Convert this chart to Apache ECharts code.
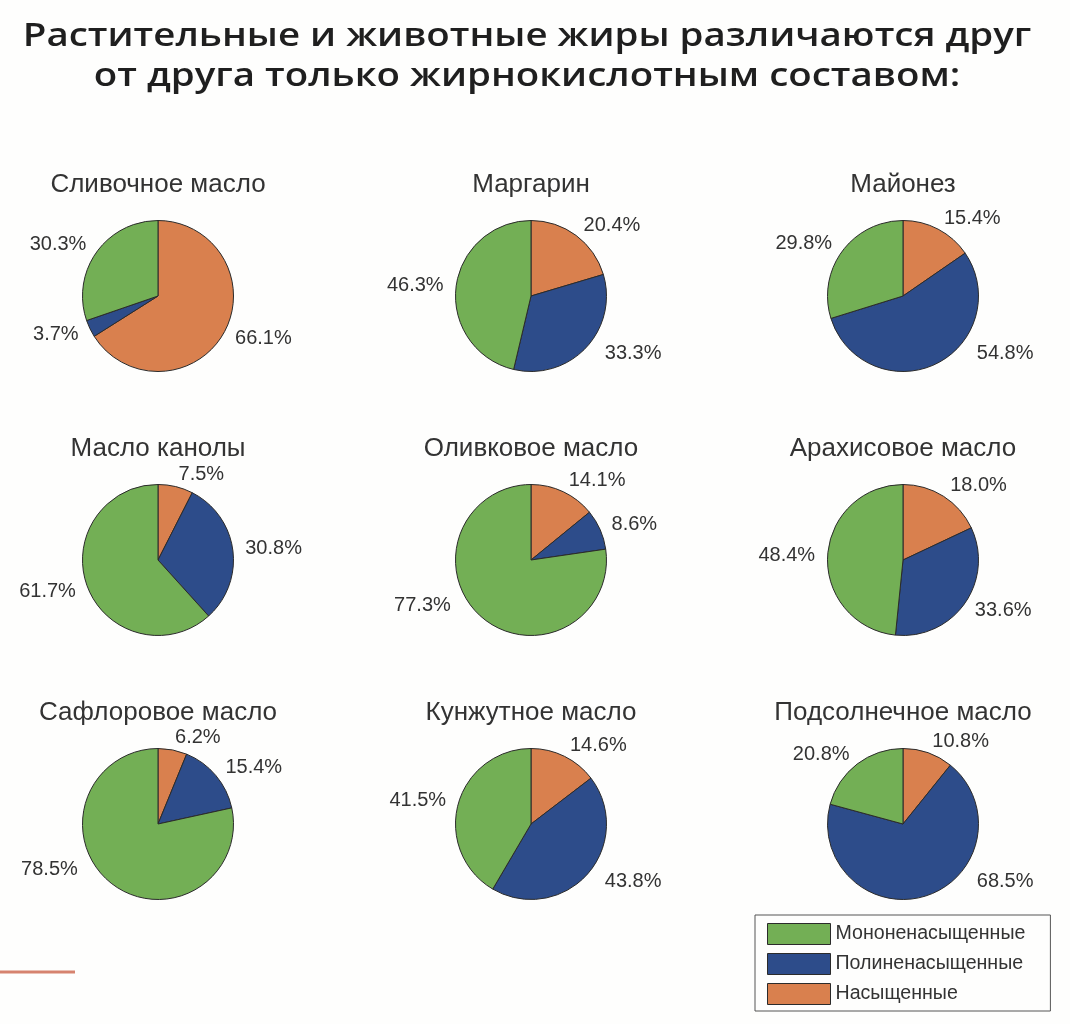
<!DOCTYPE html>
<html>
<head>
<meta charset="utf-8">
<script src="https://cdn.jsdelivr.net/npm/echarts@6/dist/echarts.min.js"></script>
<style>
html,body{margin:0;padding:0;background:#fefefd;}
#c{width:1070px;height:1024px;}
</style>
</head>
<body>
<div id="c"></div>
<script>
// ---- data ----
const mainTitleLines = ['Растительные и животные жиры различаются друг', 'от друга только жирнокислотным составом:'];
const fats = ['Сливочное масло', 'Маргарин', 'Майонез', 'Масло канолы', 'Оливковое масло', 'Арахисовое масло', 'Сафлоровое масло', 'Кунжутное масло', 'Подсолнечное масло'];
const saturated       = [66.1, 20.4, 15.4, 7.5, 14.1, 18.0, 6.2, 14.6, 10.8];
const polyunsaturated = [3.7, 33.3, 54.8, 30.8, 8.6, 33.6, 15.4, 43.8, 68.5];
const monounsaturated = [30.3, 46.3, 29.8, 61.7, 77.3, 48.4, 78.5, 41.5, 20.8];
const nameMono = 'Мононенасыщенные';
const namePoly = 'Полиненасыщенные';
const nameSat  = 'Насыщенные';

// ---- layout / style ----
const colMono = '#73af55', colPoly = '#2d4c8a', colSat = '#d9804e';
const colX = [158, 531, 903];
const rowY = [296, 560, 824];
const R = 75.5;
const textFont = '"Liberation Sans", Arial, sans-serif';

function makeLabelLayout(cx, cy) {
  return function (p) {
    const lr = p.labelRect;
    const w = lr.width, h = lr.height;
    let dx = lr.x + w / 2 - cx;
    let dy = lr.y + h / 2 - cy;
    const side = dx >= 0 ? 1 : -1;
    const maxDown = side > 0 ? 57 : 45;
    let clamped = false;
    if (dy > maxDown) { dy = maxDown; clamped = true; }
    if (dy < -92) { dy = -92; clamped = true; }
    if (clamped) {
      const ny = Math.max(0, Math.abs(dy) - h / 2);
      const rr = R + 12;
      const need = Math.sqrt(Math.max(0, rr * rr - ny * ny));
      const inner = Math.abs(dx) - w / 2;
      if (inner < need) dx = side * (need + w / 2);
    }
    return { x: cx + dx, y: cy + dy, align: 'center', verticalAlign: 'middle' };
  };
}

const series = fats.map(function (name, i) {
  const cx = colX[i % 3], cy = rowY[Math.floor(i / 3)];
  return {
    type: 'pie',
    name: name,
    center: [cx, cy],
    radius: R,
    startAngle: 90,
    clockwise: true,
    avoidLabelOverlap: false,
    itemStyle: { borderColor: '#2b2b2b', borderWidth: 1 },
    emphasis: { disabled: true },
    label: {
      show: true,
      position: 'outside',
      distanceToLabelLine: 0,
      fontSize: 20,
      fontFamily: textFont,
      color: '#333333',
      formatter: function (p) { return p.value.toFixed(1) + '%'; }
    },
    labelLine: { show: false, length: 12.5, length2: 0 },
    labelLayout: makeLabelLayout(cx, cy),
    data: [
      { name: nameSat,  value: saturated[i],       itemStyle: { color: colSat } },
      { name: namePoly, value: polyunsaturated[i], itemStyle: { color: colPoly } },
      { name: nameMono, value: monounsaturated[i], itemStyle: { color: colMono } }
    ]
  };
});

const graphics = [
  {
    type: 'text', x: 527, y: 17,
    scaleX: 1.165,
    style: {
      text: mainTitleLines.join('\n'),
      font: '600 33px "Open Sans", sans-serif',
      fill: '#1f1f1f', align: 'center', verticalAlign: 'top', lineHeight: 40
    }
  },
  {
    type: 'line',
    shape: { x1: 0, y1: 972, x2: 75, y2: 972 },
    style: { stroke: '#d6836f', lineWidth: 3 }
  }
];
fats.forEach(function (name, i) {
  graphics.push({
    type: 'text',
    x: colX[i % 3], y: rowY[Math.floor(i / 3)] - 111,
    style: {
      text: name, font: '26px ' + textFont, fill: '#333333',
      align: 'center', verticalAlign: 'middle'
    }
  });
});

const chart = echarts.init(document.getElementById('c'), null, { renderer: 'canvas' });
chart.setOption({
  backgroundColor: '#fefefd',
  animation: false,
  legend: {
    orient: 'vertical',
    left: 755, top: 915,
    padding: [8, 25, 6, 12],
    itemWidth: 63, itemHeight: 21, itemGap: 8,
    borderColor: '#555555', borderWidth: 1,
    icon: 'rect',
    selectedMode: false,
    data: [nameMono, namePoly, nameSat],
    itemStyle: { borderColor: '#2b2b2b', borderWidth: 1 },
    textStyle: { fontSize: 19.6, color: '#333333', fontFamily: textFont }
  },
  graphic: graphics,
  series: series
});
</script>
</body>
</html>
